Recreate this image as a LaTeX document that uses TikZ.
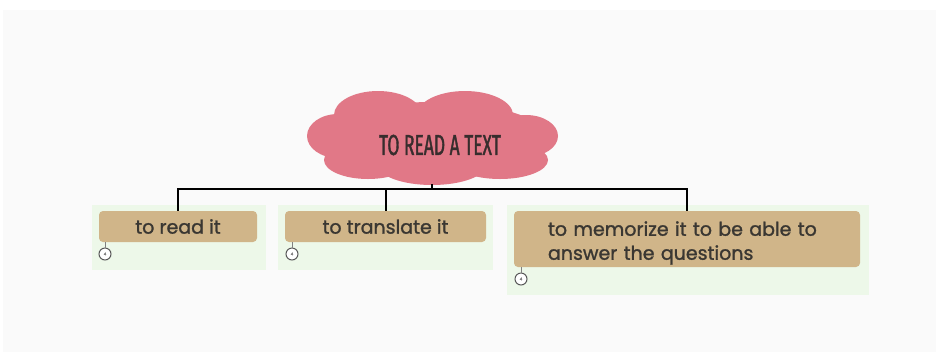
\documentclass[tikz,border=0pt]{standalone}
\usepackage{fontspec}
\setmainfont{Poppins}[FakeBold=1.3]
\newfontfamily\titlefont[FakeStretch=0.6,FakeBold=1.2]{Fira Sans}
\begin{document}
\begin{tikzpicture}[x=1pt,y=-1pt,
  pane/.style={fill=mintbg, draw=none},
  itembox/.style={fill=tanbox, draw=none, rounded corners=4pt, inner sep=0pt,
     font=\fontsize{19}{24}\selectfont, text=txtgray},
  conn/.style={draw=black, line width=2pt},
  marker/.style={circle, draw=gray!70!black, line width=1pt, fill=white, minimum size=12pt, inner sep=0pt, font=\fontsize{4}{4}\selectfont, text=gray},
  lobe/.style={fill=cloudpink, draw=none}]
\definecolor{panelbg}{RGB}{250,250,250}
\definecolor{mintbg}{RGB}{237,248,233}
\definecolor{tanbox}{RGB}{208,181,137}
\definecolor{cloudpink}{RGB}{225,120,135}
\definecolor{txtgray}{RGB}{58,55,50}
\definecolor{titlegray}{RGB}{55,45,45}
\useasboundingbox (0,0) rectangle (936,360);
\fill[white] (0,0) rectangle (936,360);
\fill[panelbg] (3,10) rectangle (936,352);
% green panes
\fill[pane] (92,205) rectangle (266,270);
\fill[pane] (278,205) rectangle (493,270);
\fill[pane] (507,205) rectangle (869,295);
% cloud
\fill[lobe] (378,115) ellipse [x radius=44, y radius=24];
\fill[lobe] (465,115) ellipse [x radius=48, y radius=24];
\fill[lobe] (338,136) ellipse [x radius=31, y radius=22];
\fill[lobe] (526,136) ellipse [x radius=32, y radius=21];
\fill[lobe] (368,160) ellipse [x radius=44, y radius=19];
\fill[lobe] (432,165) ellipse [x radius=54, y radius=20];
\fill[lobe] (500,160) ellipse [x radius=48, y radius=19];
\fill[lobe] (432,138) ellipse [x radius=115, y radius=36];
\node[text=titlegray, font=\titlefont\fontsize{29}{29}\selectfont] (cloud) at (440,145) {TO READ A TEXT};
\coordinate (cbot) at (432,184);
\coordinate (bus) at (432,189);
% boxes
\node[itembox, minimum width=158pt, minimum height=31pt] (b1) at (178,226.5) {to read it};
\node[itembox, minimum width=201pt, minimum height=31pt] (b2) at (385.5,226.5) {to translate it};
\node[itembox, minimum width=346pt, minimum height=56pt] (b3) at (687,239) {};
\node[font=\fontsize{19}{24}\selectfont, text=txtgray, text width=278pt, align=left, inner sep=0pt] (t3) at ([yshift=-4pt]b3.center) {to memorize it to be able to\\answer the questions};
% connectors
\draw[conn] (cbot) -- (bus);
\draw[conn] (b1.north) |- (bus) -| (b3.north);
\draw[conn] (b2.north) -- (b2.north |- bus);
% markers
\node[marker] (m1) at (105,254) {4};
\node[marker] (m2) at (292,254) {4};
\node[marker] (m3) at (521,279) {4};
\draw[gray, line width=0.8pt] (m1.north) -- (m1.north |- b1.south);
\draw[gray, line width=0.8pt] (m2.north) -- (m2.north |- b2.south);
\draw[gray, line width=0.8pt] (m3.north) -- (m3.north |- b3.south);
\end{tikzpicture}
\end{document}
